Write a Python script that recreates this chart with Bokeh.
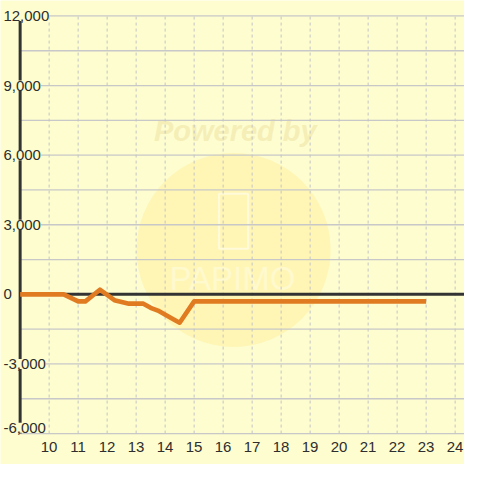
from bokeh.plotting import figure
from bokeh.models import Range1d, LabelSet, ColumnDataSource
from bokeh.core.properties import value
from bokeh.embed import file_html
from bokeh.resources import INLINE

# ---- data ----
hours = [9, 10.5, 11, 11.25, 11.75, 12.25, 12.75, 13.25, 13.5, 13.75, 14.25, 14.5, 15, 23]
diff = [0, 0, -300, -300, 200, -250, -400, -400, -580, -700, -1050, -1220, -300, -300]

x_ticks = [10, 11, 12, 13, 14, 15, 16, 17, 18, 19, 20, 21, 22, 23, 24]
x_tick_labels = ["10", "11", "12", "13", "14", "15", "16", "17", "18", "19", "20", "21", "22", "23", "24"]
y_ticks = [-6000, -3000, 0, 3000, 6000, 9000, 12000]
y_tick_labels = ["-6,000", "-3,000", "0", "3,000", "6,000", "9,000", "12,000"]
y_grid = [-6000, -4500, -3000, -1500, 0, 1500, 3000, 4500, 6000, 7500, 9000, 10500, 12000]

# ---- layout ----
W = 464
S = W / 480.0
BG = "#FDFDD0"
X0, X1 = 8.323, 24.323
Y0, Y1 = -7333, 12667
FONT = "Liberation Sans"
TXT = "#2E2E2E"

p = figure(width=W, height=W, x_range=Range1d(X0, X1), y_range=Range1d(Y0, Y1),
           output_backend="svg", toolbar_location=None, min_border=0,
           x_axis_location=None, y_axis_location=None,
           background_fill_color=BG, border_fill_color=BG, outline_line_color=None)
p.grid.visible = False

# ---- watermark (decoration, drawn beneath the grid) ----
p.circle(x=[16.36], y=[1917], radius=97, radius_units="screen",
         fill_color="#FFF3AC", fill_alpha=0.75, line_color=None)
p.text(x=[16.42], y=[7042], text=["Powered by"], text_align="center", text_baseline="middle",
       text_font=value(FONT), text_font_size="29px", text_font_style="bold italic",
       text_color="#F4ECB2", text_alpha=0.85)
p.text(x=[16.32], y=[667], text=["PAPIMO"], text_align="center", text_baseline="middle",
       text_font=value(FONT), text_font_size="33px",
       text_color="#FFFFFF", text_alpha=0.35)
p.rect(x=[16.36], y=[3150], width=30 * S, height=57 * S, width_units="screen",
       height_units="screen", fill_color=None, line_color="#FFFFFF", line_alpha=0.5,
       line_width=2)

# ---- grid lines ----
p.segment(x0=[hours[0]] * len(y_grid), x1=[X1] * len(y_grid), y0=y_grid, y1=y_grid,
          line_color="#C8C8C8", line_width=1.3)
p.segment(x0=x_ticks, x1=x_ticks, y0=[y_grid[0]] * len(x_ticks), y1=[y_grid[-1]] * len(x_ticks),
          line_color="#C4C4C4", line_width=1, line_dash="3 3")

# ---- zero line and y axis line ----
p.segment(x0=[hours[0]], x1=[X1], y0=[0], y1=[0], line_color="#333333", line_width=3)
p.segment(x0=[hours[0]], x1=[hours[0]], y0=[y_grid[0]], y1=[y_grid[-1]],
          line_color="#333333", line_width=3)

# ---- data line ----
p.line(hours, diff, line_color="#E07B22", line_width=4.6, line_join="round")

# ---- tick labels ----
ysrc = ColumnDataSource(dict(
    x=[X0] * len(y_ticks), y=y_ticks, text=y_tick_labels,
    yoff=[6 * S if v == min(y_ticks) else 0 for v in y_ticks]))
p.add_layout(LabelSet(x="x", y="y", text="text", source=ysrc, x_offset=3 * S, y_offset="yoff",
                      text_align="left", text_baseline="middle", text_font=value(FONT),
                      text_font_size="15px", text_color=TXT,
                      background_fill_color=BG, background_fill_alpha=1.0))
xsrc = ColumnDataSource(dict(x=x_ticks, y=[Y0] * len(x_ticks), text=x_tick_labels))
p.add_layout(LabelSet(x="x", y="y", text="text", source=xsrc, y_offset=18 * S,
                      text_align="center", text_baseline="middle", text_font=value(FONT),
                      text_font_size="15px", text_color=TXT))

open("out.html", "w").write(file_html(p, INLINE))
